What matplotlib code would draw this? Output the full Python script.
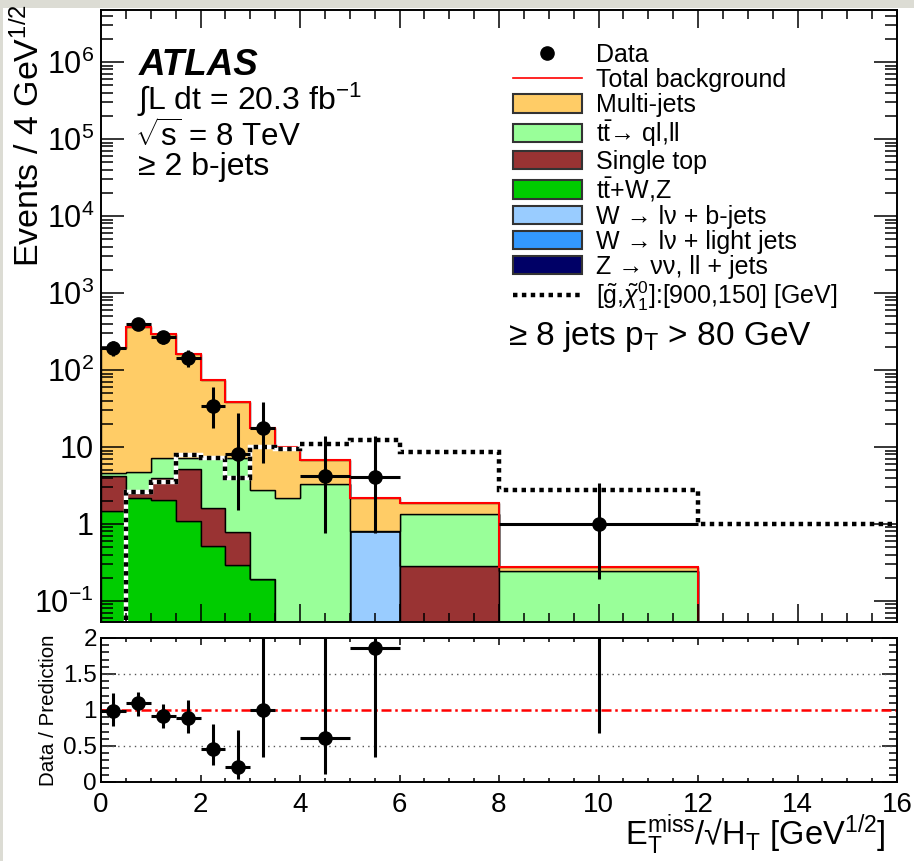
import numpy as np
import matplotlib
matplotlib.use('Agg')
import matplotlib.pyplot as plt
from matplotlib.patches import Patch, Rectangle
from matplotlib.lines import Line2D
from matplotlib.ticker import MultipleLocator, LogLocator, FuncFormatter, NullFormatter

plt.rcParams['font.family'] = ['Liberation Sans', 'DejaVu Sans']
plt.rcParams['mathtext.fontset'] = 'custom'
plt.rcParams['mathtext.rm'] = 'Liberation Sans'
plt.rcParams['mathtext.it'] = 'Liberation Sans:italic'
plt.rcParams['mathtext.bf'] = 'Liberation Sans:bold'

# binning in Etmiss/sqrt(HT)
edges = [0, 0.5, 1, 1.5, 2, 2.5, 3, 3.5, 4, 5, 6, 8, 12, 16]

# background components (events / bin), bottom of stack first
z_jets = [0, 0, 0, 0, 0, 0, 0, 0, 0, 0, 0, 0, 0]
w_light = [0, 0, 0, 0, 0, 0, 0, 0, 0, 0, 0, 0, 0]
w_bjets = [0, 0, 0, 0, 0, 0, 0, 0, 0, 0.81, 0, 0, 0]
ttv = [1.49, 2.15, 2.05, 1.1, 0.51, 0.29, 0.19, 0, 0, 0, 0, 0, 0]
single_top = [2.71, 0.35, 1.85, 4.0, 1.09, 0.5, 0, 0, 0, 0, 0.285, 0, 0]
ttbar = [0.4, 2.3, 3.2, 2.0, 5.5, 6.3, 2.57, 2.2, 3.3, 0, 1.07, 0.245, 0]
multijet = [188, 357, 287, 154, 67, 31, 14.9, 7.8, 3.5, 1.39, 0.52, 0.032, 0]

# signal [900,150]
signal = [0, 2.6, 3.5, 7.9, 7.3, 4.0, 10, 9.5, 11, 12.5, 8.6, 2.8, 1.0]

# data
data_x = [0.25, 0.75, 1.25, 1.75, 2.25, 2.75, 3.25, 4.5, 5.5, 10]
data_xerr = [0.25, 0.25, 0.25, 0.25, 0.25, 0.25, 0.25, 0.5, 0.5, 2]
data_y = [191, 398, 268, 143, 34, 8.0, 17.7, 4.2, 4.1, 1.0]
data_lo = [151, 330, 220, 109, 17.7, 1.5, 6.2, 0.76, 0.76, 0.19]
data_hi = [237, 450, 318, 184, 60, 27.6, 38, 13.9, 13.9, 3.4]

W, H = 914, 861
fig = plt.figure(figsize=(W / 100, H / 100), dpi=100)
fig.patch.set_facecolor('white')
fig.patches.append(Rectangle((0, 1 - 8 / H), 1, 8 / H, transform=fig.transFigure,
                             facecolor='#dcdcd4', edgecolor='none', zorder=-10))
fig.patches.append(Rectangle((0, 0), 3 / W, 1, transform=fig.transFigure,
                             facecolor='#dcdcd4', edgecolor='none', zorder=-10))

ax = fig.add_axes([101 / W, 1 - 622 / H, 796 / W, 612 / H])
rax = fig.add_axes([101 / W, 1 - 782 / H, 796 / W, 144 / H], sharex=ax)

ax.set_yscale('log')
floor = 1e-3
comps = [
    (z_jets, '#000066', 'Z → νν, ll + jets'),
    (w_light, '#3399ff', 'W → lν + light jets'),
    (w_bjets, '#99ccff', 'W → lν + b-jets'),
    (ttv, '#00cc00', r'$\mathrm{t\bar{t}}$+W,Z'),
    (single_top, '#993333', 'Single top'),
    (ttbar, '#99ff99', r'$\mathrm{t\bar{t}}$→ ql,ll'),
    (multijet, '#ffcc66', 'Multi-jets'),
]
bottom = np.zeros(len(edges) - 1)
for vals, col, lab in comps:
    top = bottom + np.array(vals)
    ax.stairs(np.maximum(top, floor), edges, baseline=np.maximum(bottom, floor),
              fill=True, facecolor=col, edgecolor='black', lw=1.0)
    bottom = top
total = bottom

ax.stairs(np.maximum(total, floor), edges, baseline=None, color='red', lw=1.5)
ax.stairs(np.maximum(signal, floor), edges, baseline=None, color='white', lw=3.2)
ax.stairs(np.maximum(signal, floor), edges, baseline=None, color='black', lw=3.2,
          ls=(0, (1, 1)))

dy = np.array(data_y)
yerr = [dy - np.array(data_lo), np.array(data_hi) - dy]
ax.errorbar(data_x, data_y, xerr=data_xerr, yerr=yerr, fmt='o', color='black',
            ms=9.5, elinewidth=2.2, capsize=0, zorder=5)

ax.set_xlim(0, 16)
ax.set_ylim(0.0533, 4.74e6)


def log_label(v, pos):
    e = int(round(np.log10(v)))
    if e == 0:
        return '1'
    if e == 1:
        return '10'
    return r'$\mathregular{10^{%d}}$' % e


ax.yaxis.set_major_locator(LogLocator(base=10, numticks=20))
ax.yaxis.set_minor_locator(LogLocator(base=10, subs=np.arange(2, 10), numticks=20))
ax.yaxis.set_major_formatter(FuncFormatter(log_label))
ax.yaxis.set_minor_formatter(NullFormatter())
ax.xaxis.set_major_locator(MultipleLocator(2))
ax.xaxis.set_minor_locator(MultipleLocator(0.5))
ax.tick_params(which='both', direction='in', top=True, right=True, width=1.1)
ax.tick_params(axis='x', which='major', length=13, labelbottom=False)
ax.tick_params(axis='x', which='minor', length=6.5)
ax.tick_params(axis='y', which='major', length=16.5, labelsize=22, pad=5)
ax.tick_params(axis='y', which='minor', length=8.5)
for s in ax.spines.values():
    s.set_linewidth(1.4)

# legend
handles = [
    Line2D([], [], marker='o', ls='none', color='black', ms=9.5),
    Line2D([], [], color='red', lw=1.2),
]
labels = ['Data', 'Total background']
for vals, col, lab in comps[::-1]:
    handles.append(Patch(facecolor=col, edgecolor='#333333', lw=1.5))
    labels.append(lab)
handles.append(Line2D([], [], color='black', lw=3.2, ls=(0, (1, 1))))
labels.append(r'[$\tilde{\mathrm{g}}$,$\tilde{\chi}^{0}_{1}$]:[900,150] [GeV]')
ax.legend(handles, labels, loc='upper left', bbox_to_anchor=(513 / W, 1 - 43 / H),
          bbox_transform=fig.transFigure, frameon=False, fontsize=18,
          borderpad=0, borderaxespad=0, handlelength=2.75, handleheight=0.76,
          handletextpad=0.55, labelspacing=0.04)

# labels
fig.text(139 / W, 1 - 75 / H, 'ATLAS', fontsize=26.5, fontweight='bold',
         fontstyle='italic', va='baseline')
fig.text(137 / W, 1 - 110 / H, r'$\int$L dt = 20.3 fb$^{-1}$', fontsize=23, va='baseline')
fig.text(135 / W, 1 - 147 / H, r'$\sqrt{\mathrm{s}}$ = 8 TeV', fontsize=22.5, va='baseline')
fig.text(138 / W, 1 - 175 / H, '≥ 2 b-jets', fontsize=23, va='baseline')
fig.text(508 / W, 1 - 345 / H, r'≥ 8 jets p$_{\mathrm{T}}$ > 80 GeV', fontsize=24,
         va='baseline')
fig.text(12 / W, 1 - 4 / H, r'Events / 4 GeV$^{1/2}$', fontsize=24.5, rotation=90,
         ha='left', va='top')

# ratio panel
tot_at = np.array([total[np.searchsorted(edges, x) - 1] for x in data_x])
ratio = dy / tot_at
rerr = [yerr[0] / tot_at, yerr[1] / tot_at]
rax.axhline(0.5, color='#555555', lw=1.0, ls=(0, (1, 3)))
rax.axhline(1.5, color='#555555', lw=1.0, ls=(0, (1, 3)))
rax.axhline(1.0, color='red', lw=1.8, ls=(0, (4, 1.5, 1, 1.5)))
rax.errorbar(data_x, ratio, xerr=data_xerr, yerr=rerr, fmt='o', color='black',
             ms=9.5, elinewidth=2.2, capsize=0, zorder=5)
rax.set_ylim(0, 2)
rax.set_xlim(0, 16)
rax.yaxis.set_major_locator(MultipleLocator(0.5))
rax.yaxis.set_minor_locator(MultipleLocator(0.1))
rax.yaxis.set_major_formatter(FuncFormatter(lambda v, p: '%g' % v))
rax.tick_params(which='both', direction='in', top=True, right=True, width=1.1)
rax.tick_params(axis='x', which='major', length=5, labelsize=20, pad=7)
rax.tick_params(axis='x', which='minor', length=3)
rax.tick_params(axis='y', which='major', length=11, labelsize=17.5, pad=3)
rax.tick_params(axis='y', which='minor', length=5.8)
for s in rax.spines.values():
    s.set_linewidth(1.4)
rax.set_ylabel('Data / Prediction', fontsize=14.8)
rax.yaxis.set_label_coords(-0.054, 0.5)

fig.text(886 / W, 1 - 845 / H,
         r'E$_{\mathrm{T}}^{\mathrm{miss}}$/√H$_{\mathrm{T}}$ [GeV$^{1/2}$]',
         fontsize=23.5, ha='right', va='baseline')

fig.savefig('out.png', dpi=100)
